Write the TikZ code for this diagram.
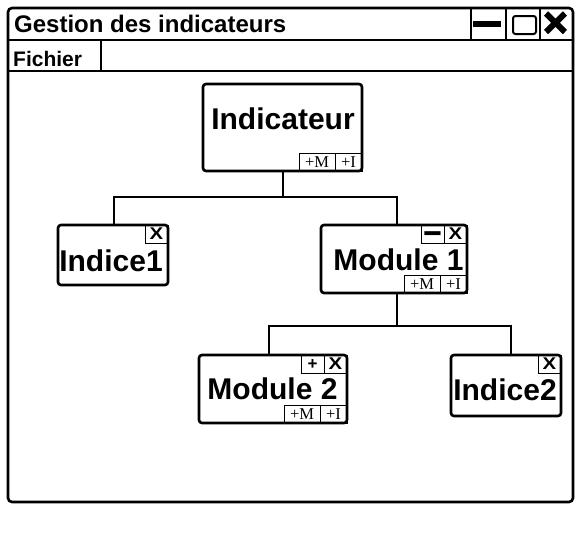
\documentclass[tikz,border=0pt]{standalone}
\usepackage{fontspec}
\usepackage{graphicx}
\setmainfont{Liberation Sans}
\newfontfamily\btnserif{Liberation Serif}
\newcommand{\btnX}{\scalebox{1.2}[1]{X}}
\newcommand{\btnMinus}{\raisebox{-5.5pt}{\scalebox{1.9}[2.1]{−}}}
\begin{document}
\begin{tikzpicture}[x=1pt,y=-1pt,
  frame/.style={line width=2.6pt},
  sepline/.style={line width=2pt},
  box/.style={draw, line width=2.6pt, rounded corners=3pt, fill=white, inner sep=0pt, outer sep=0pt},
  btn/.style={draw, line width=0.8pt, inner sep=0pt, outer sep=0pt, minimum height=18pt,
    text height=11.5pt, text depth=0pt, font=\bfseries\fontsize{17}{17}\selectfont},
  btnx/.style={btn, minimum width=23pt},
  btnm/.style={btn, minimum width=36pt, text height=11pt, font=\btnserif\fontsize{16.5}{16.5}\selectfont},
  btni/.style={btn, minimum width=27pt, text height=11pt, font=\btnserif\fontsize{16.5}{16.5}\selectfont},
  lbl/.style={inner sep=0pt, anchor=base, font=\bfseries\fontsize{30}{30}\selectfont},
  wire/.style={line width=2.6pt},
  bartext/.style={anchor=base west, inner sep=0pt}
]
\useasboundingbox (0,0) rectangle (582,554);
% window frame
\draw[frame, rounded corners=4pt] (8,8) rectangle (573,502);
\draw[sepline] (8,40) -- (573,40);
\draw[sepline] (8,71) -- (573,71);
\draw[sepline] (101,40) -- (101,71);
\draw[sepline] (471,8) -- (471,40);
\draw[sepline] (506,8) -- (506,40);
\draw[sepline] (540,8) -- (540,40);
% title bar icons
\fill (473,20.5) rectangle (501,26.5);
\draw[line width=2pt, rounded corners=2.5pt] (513,16) rectangle (536,34);
\draw[line width=6pt] (546,13.5) -- (565,32) (565,13.5) -- (546,32);
% bar texts
\node[bartext, font=\bfseries\fontsize{24}{24}\selectfont] (title) at (14,32.5) {Gestion des indicateurs};
\node[bartext, font=\bfseries\fontsize{21}{21}\selectfont] (menu) at (13,66) {Fichier};
% boxes
\node[box, minimum width=159pt, minimum height=87pt] (ind) at (282.5,127.5) {};
\node[box, minimum width=110pt, minimum height=60pt] (i1) at (113,255) {};
\node[box, minimum width=146pt, minimum height=68pt] (m1) at (394,259) {};
\node[box, minimum width=148pt, minimum height=68pt] (m2) at (273,389) {};
\node[box, minimum width=110pt, minimum height=61pt] (i2) at (506,385.5) {};
% connectors
\coordinate (bus1) at (0,197);
\coordinate (bus2) at (0,326);
\draw[wire] ([xshift=0.5pt]ind.south) -- ([xshift=0.5pt]ind.south |- bus1) -| ([xshift=1pt]i1.north);
\draw[wire] ([xshift=0.5pt]ind.south |- bus1) -| ([xshift=3pt]m1.north);
\draw[wire] ([xshift=3pt]m1.south) -- ([xshift=3pt]m1.south |- bus2) -| ([xshift=-4pt]m2.north);
\draw[wire] ([xshift=3pt]m1.south |- bus2) -| ([xshift=5pt]i2.north);
% buttons
\node[btni, anchor=south east] (indI) at (ind.south east) {+I};
\node[btnm, anchor=south east] (indM) at (indI.south west) {+M};
\node[btnx, anchor=north east] (i1x) at (i1.north east) {\btnX};
\node[btnx, anchor=north east] (m1x) at (m1.north east) {\btnX};
\node[btnx, anchor=north east] (m1c) at (m1x.north west) {\btnMinus};
\node[btni, anchor=south east] (m1I) at (m1.south east) {+I};
\node[btnm, anchor=south east] (m1M) at (m1I.south west) {+M};
\node[btnx, anchor=north east] (m2x) at (m2.north east) {\btnX};
\node[btnx, anchor=north east] (m2e) at (m2x.north west) {+};
\node[btni, anchor=south east] (m2I) at (m2.south east) {+I};
\node[btnm, anchor=south east] (m2M) at (m2I.south west) {+M};
\node[btnx, anchor=north east] (i2x) at (i2.north east) {\btnX};
% labels
\node[lbl] (indt) at (283,129) {Indicateur};
\node[lbl] (i1t) at (111,271) {Indice1};
\node[lbl] (m1t) at (398.5,270.5) {Module 1};
\node[lbl] (m2t) at (272.5,399.5) {Module 2};
\node[lbl] (i2t) at (505,400) {Indice2};
\end{tikzpicture}
\end{document}
